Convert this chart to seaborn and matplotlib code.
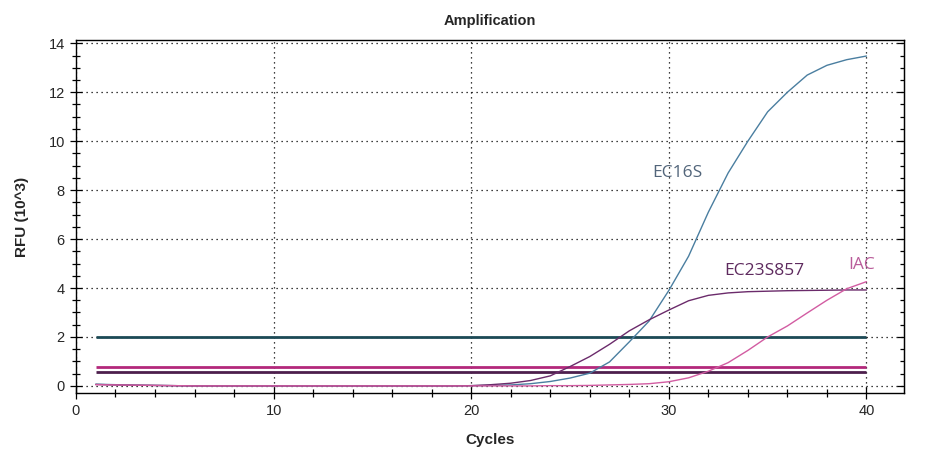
import numpy as np
import pandas as pd
import matplotlib
matplotlib.use("Agg")
import matplotlib.pyplot as plt
import seaborn as sns
from matplotlib.ticker import MultipleLocator

# cycle numbers and RFU (10^3)
cycles = list(range(1, 41))
ec16s = [0.07, 0.05, 0.03, 0.02, 0.01, 0.0, 0.0, 0.0, 0.0, 0.0,
         0.0, 0.0, 0.0, 0.0, 0.0, 0.0, 0.0, 0.0, 0.0, 0.01,
         0.02, 0.04, 0.09, 0.18, 0.32, 0.52, 0.98, 1.8, 2.65, 3.9,
         5.3, 7.1, 8.7, 10.0, 11.2, 12.0, 12.7, 13.1, 13.33, 13.48]
ec23s857 = [0.06, 0.04, 0.03, 0.02, 0.01, 0.0, 0.0, 0.0, 0.0, 0.0,
            0.0, 0.0, 0.0, 0.0, 0.0, 0.0, 0.0, 0.0, 0.0, 0.01,
            0.05, 0.11, 0.22, 0.41, 0.79, 1.2, 1.7, 2.25, 2.7, 3.1,
            3.48, 3.7, 3.8, 3.85, 3.87, 3.89, 3.9, 3.91, 3.92, 3.92]
iac = [0.05, 0.04, 0.03, 0.02, 0.01, 0.0, 0.0, 0.0, 0.0, 0.0,
       0.0, 0.0, 0.0, 0.0, 0.0, 0.0, 0.0, 0.0, 0.0, 0.0,
       0.0, 0.0, 0.0, 0.01, 0.01, 0.02, 0.04, 0.06, 0.09, 0.17,
       0.33, 0.6, 0.95, 1.45, 2.0, 2.45, 2.98, 3.5, 3.97, 4.26]

targets = ["EC16S", "EC23S857", "IAC"]
thresholds = [2.0, 0.78, 0.58]  # EC16S, IAC, EC23S857 threshold lines
threshold_start, threshold_end = 1, 40

curve_colors = {"EC16S": "#4a7ea0", "EC23S857": "#6b2b6b", "IAC": "#d25ca2"}
threshold_colors = ["#1c4a56", "#b3287b", "#4d1f4d"]
label_colors = {"EC16S": "#52657a", "EC23S857": "#5e2a5e", "IAC": "#b95c9a"}
label_pos = {"EC16S": (30.45, 8.7), "EC23S857": (34.85, 4.7), "IAC": (39.75, 4.95)}

df = pd.DataFrame({
    "Cycles": cycles * 3,
    "RFU": ec16s + ec23s857 + iac,
    "Target": ["EC16S"] * 40 + ["EC23S857"] * 40 + ["IAC"] * 40,
})

sns.set_style("ticks")
plt.rcParams["font.family"] = ["Liberation Sans", "DejaVu Sans"]

fig = plt.figure(figsize=(9.31, 4.61), dpi=100)
ax = fig.add_axes([0.0816, 0.1475, 0.8894, 0.7655])

#threshold lines first so curves sit over them
for thr, col in zip(thresholds, threshold_colors):
    ax.hlines(thr, threshold_start, threshold_end, color=col, linewidth=2.0, zorder=2)

sns.lineplot(data=df, x="Cycles", y="RFU", hue="Target", palette=curve_colors,
             linewidth=1.0, legend=False, ax=ax, zorder=3)

for name in targets:
    x, y = label_pos[name]
    ax.text(x, y, name, color=label_colors[name], fontsize=12.5,
            family=["Open Sans", "DejaVu Sans"], ha="center", va="center")

ax.set_xlim(0, 41.9)
ax.set_ylim(-0.29, 14.13)
ax.xaxis.set_major_locator(MultipleLocator(10))
ax.xaxis.set_minor_locator(MultipleLocator(2))
ax.yaxis.set_major_locator(MultipleLocator(2))
ax.yaxis.set_minor_locator(MultipleLocator(0.5))
ax.grid(True, which="major", color="black", linestyle=(0, (1, 3)), linewidth=0.9)
ax.set_axisbelow(True)

ax.tick_params(which="both", direction="inout", labelsize=10.5,
               color="black", width=0.9)
ax.tick_params(which="major", length=9)
ax.tick_params(which="minor", length=6)
for sp in ax.spines.values():
    sp.set_color("black")
    sp.set_linewidth(1.0)

#inward ticks on the right spine only
rax = ax.secondary_yaxis("right")
rax.yaxis.set_major_locator(MultipleLocator(2))
rax.yaxis.set_minor_locator(MultipleLocator(0.5))
rax.tick_params(which="both", direction="in", labelright=False, color="black", width=0.9)
rax.tick_params(which="major", length=5)
rax.tick_params(which="minor", length=3)

ax.set_title("Amplification", fontsize=10.5, fontweight="bold", pad=11)
ax.set_xlabel("Cycles", fontsize=11, fontweight="bold", labelpad=11)
ax.set_ylabel("RFU (10^3)", fontsize=11, fontweight="bold", labelpad=14)

fig.savefig("out.png", dpi=100)
